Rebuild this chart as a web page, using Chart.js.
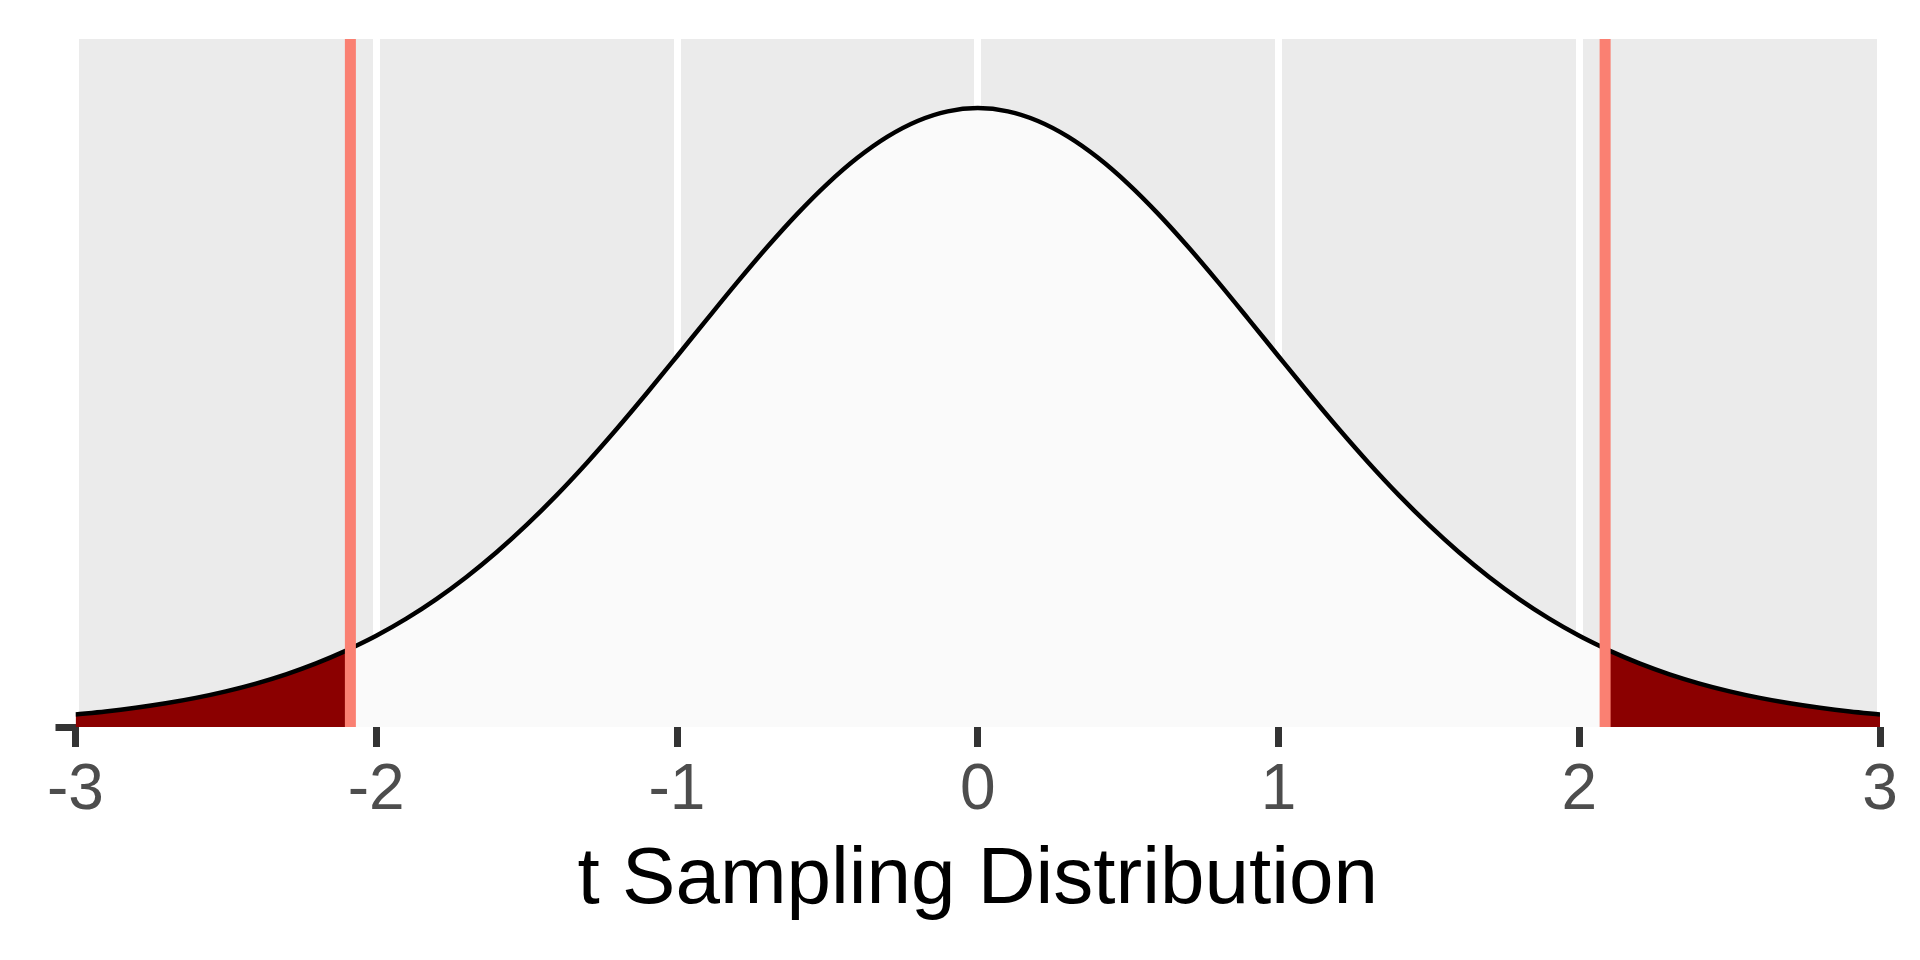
<!DOCTYPE html>
<html>
<head>
<meta charset="utf-8">
<script src="https://cdn.jsdelivr.net/npm/chart.js@4.4.1/dist/chart.umd.min.js"></script>
<style>
  html, body { margin: 0; padding: 0; background: #ffffff; }
  #wrap { width: 1920px; height: 960px; }
</style>
</head>
<body>
<div id="wrap"><canvas id="c" width="1920" height="960"></canvas></div>
<script>
// ---- data ----
const tValues = [-3.0,-2.9,-2.8,-2.7,-2.6,-2.5,-2.4,-2.3,-2.2,-2.1,-2.0,-1.9,-1.8,-1.7,-1.6,-1.5,-1.4,-1.3,-1.2,-1.1,-1.0,-0.9,-0.8,-0.7,-0.6,-0.5,-0.4,-0.3,-0.2,-0.1,0.0,0.1,0.2,0.3,0.4,0.5,0.6,0.7,0.8,0.9,1.0,1.1,1.2,1.3,1.4,1.5,1.6,1.7,1.8,1.9,2.0,2.1,2.2,2.3,2.4,2.5,2.6,2.7,2.8,2.9,3.0];
const density = [0.00796,0.00986,0.01223,0.01508,0.01852,0.02267,0.02764,0.03352,0.04048,0.04862,0.05809,0.06899,0.08143,0.09551,0.11124,0.12864,0.14763,0.16810,0.18986,0.21262,0.23605,0.25969,0.28305,0.30558,0.32670,0.34582,0.36238,0.37586,0.38582,0.39194,0.39400,0.39194,0.38582,0.37586,0.36238,0.34582,0.32670,0.30558,0.28305,0.25969,0.23605,0.21262,0.18986,0.16810,0.14763,0.12864,0.11124,0.09551,0.08143,0.06899,0.05809,0.04862,0.04048,0.03352,0.02764,0.02267,0.01852,0.01508,0.01223,0.00986,0.00796];
const criticalT = [-2.086, 2.086];
const criticalDensity = 0.0499;
const xTicks = [-3, -2, -1, 0, 1, 2, 3];
const xTitle = 't Sampling Distribution';
const yMax = 0.438;

// ---- build point lists ----
const allPts = tValues.map((x, i) => ({ x: x, y: density[i] }));
const critL = { x: criticalT[0], y: criticalDensity };
const critR = { x: criticalT[1], y: criticalDensity };
const leftTail = allPts.filter(p => p.x < criticalT[0]).concat([critL]);
const middle = [critL].concat(allPts.filter(p => p.x > criticalT[0] && p.x < criticalT[1])).concat([critR]);
const rightTail = [critR].concat(allPts.filter(p => p.x > criticalT[1]));
const curve = leftTail.concat(middle.slice(1, -1)).concat(rightTail);

Chart.defaults.font.family = "'Liberation Sans', Arial, sans-serif";

const panelBg = {
  id: 'panelBg',
  beforeDraw(chart) {
    const a = chart.chartArea, ctx = chart.ctx;
    ctx.save();
    ctx.fillStyle = '#EBEBEB';
    ctx.fillRect(a.left, a.top, a.right - a.left, a.bottom - a.top);
    ctx.restore();
  }
};

const fillDs = (pts, color) => ({
  type: 'line', data: pts, fill: 'origin', backgroundColor: color,
  borderWidth: 0, borderColor: 'rgba(0,0,0,0)', pointRadius: 0,
  cubicInterpolationMode: 'monotone', order: 5
});

const vline = (x) => ({
  type: 'line', data: [{ x: x, y: 0 }, { x: x, y: yMax }],
  borderColor: '#FA8072', borderWidth: 11, pointRadius: 0, fill: false, order: 1,
  borderCapStyle: 'butt'
});

new Chart(document.getElementById('c'), {
  type: 'line',
  data: {
    datasets: [
      fillDs(leftTail, '#8B0000'),
      fillDs(middle, '#FAFAFA'),
      fillDs(rightTail, '#8B0000'),
      {
        type: 'line', data: curve, fill: false, borderColor: '#000000', borderWidth: 4.5,
        pointRadius: 0, cubicInterpolationMode: 'monotone', order: 2
      },
      vline(criticalT[0]),
      vline(criticalT[1])
    ]
  },
  options: {
    responsive: false,
    animation: false,
    devicePixelRatio: 1,
    layout: { padding: { top: 39, right: 40, left: 0, bottom: 0 } },
    plugins: { legend: { display: false }, tooltip: { enabled: false } },
    scales: {
      x: {
        type: 'linear', min: -3, max: 3,
        afterBuildTicks: (s) => { s.ticks = xTicks.map(v => ({ value: v })); },
        afterFit: (s) => { s.height = 233; },
        border: { display: false },
        grid: { color: '#FFFFFF', lineWidth: 7, tickColor: '#333333', tickLength: 20, drawOnChartArea: true },
        ticks: { color: '#4D4D4D', font: { size: 64 }, padding: 6, maxRotation: 0,
                 callback: (v) => String(v) },
        title: { display: true, text: xTitle, color: '#000000', font: { size: 80, lineHeight: 1.2 },
                 padding: { top: 0, bottom: 31 } }
      },
      y: {
        type: 'linear', min: 0, max: yMax,
        afterBuildTicks: (s) => { s.ticks = [{ value: 0 }]; },
        afterFit: (s) => { s.width = 75.5; },
        border: { display: false },
        grid: { drawOnChartArea: false, drawTicks: true, tickLength: 20, tickColor: '#333333', lineWidth: 7 },
        ticks: { display: true, callback: () => '', padding: 0 }
      }
    }
  },
  plugins: [panelBg]
});
</script>
</body>
</html>
